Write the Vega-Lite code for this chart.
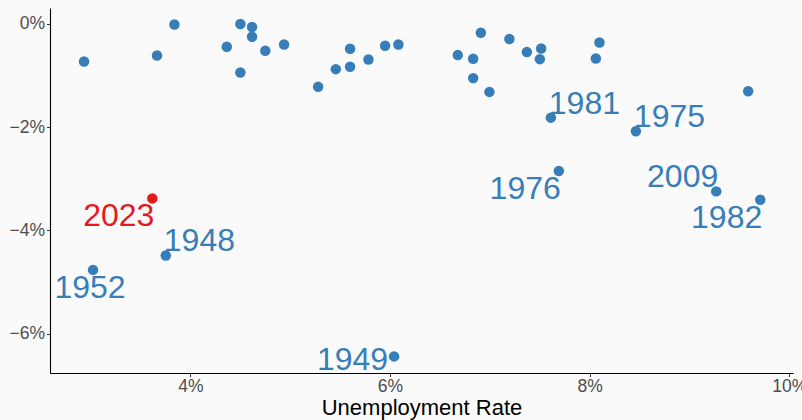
{
  "$schema": "https://vega.github.io/schema/vega-lite/v6.json",
  "autosize": {"type": "none"},
  "padding": {"left": 50, "top": 8, "right": 9, "bottom": 47},
  "width": 743,
  "height": 365,
  "background": "#FAFAFA",
  "config": {
    "view": {"stroke": null},
    "font": "Liberation Sans",
    "axis": {
      "grid": false,
      "domainColor": "#000000",
      "domainWidth": 1.1,
      "tickColor": "#333333",
      "tickSize": 3.5,
      "labelFont": "Liberation Sans",
      "labelFontSize": 17.5,
      "labelColor": "#4D4D4D",
      "labelFlush": false,
      "labelOverlap": false,
      "titleFont": "Liberation Sans",
      "titleFontWeight": "normal",
      "titleColor": "#000000"
    }
  },
  "data": {
    "values": [
      {"unemployment": 2.935, "deficit": -0.728},
      {"unemployment": 3.666, "deficit": -0.612},
      {"unemployment": 3.840, "deficit": -0.010},
      {"unemployment": 4.365, "deficit": -0.443},
      {"unemployment": 4.501, "deficit": 0.000},
      {"unemployment": 4.618, "deficit": -0.060},
      {"unemployment": 4.618, "deficit": -0.249},
      {"unemployment": 4.501, "deficit": -0.942},
      {"unemployment": 4.751, "deficit": -0.520},
      {"unemployment": 4.939, "deficit": -0.398},
      {"unemployment": 5.280, "deficit": -1.219},
      {"unemployment": 5.457, "deficit": -0.876},
      {"unemployment": 5.600, "deficit": -0.482},
      {"unemployment": 5.600, "deficit": -0.831},
      {"unemployment": 5.784, "deficit": -0.689},
      {"unemployment": 5.951, "deficit": -0.423},
      {"unemployment": 6.084, "deficit": -0.398},
      {"unemployment": 6.679, "deficit": -0.604},
      {"unemployment": 6.833, "deficit": -0.676},
      {"unemployment": 6.833, "deficit": -1.050},
      {"unemployment": 6.910, "deficit": -0.171},
      {"unemployment": 6.996, "deficit": -1.317},
      {"unemployment": 7.196, "deficit": -0.293},
      {"unemployment": 7.371, "deficit": -0.546},
      {"unemployment": 7.514, "deficit": -0.476},
      {"unemployment": 7.501, "deficit": -0.682},
      {"unemployment": 8.098, "deficit": -0.359},
      {"unemployment": 8.062, "deficit": -0.670},
      {"unemployment": 9.588, "deficit": -1.303},
      {"unemployment": 7.611, "deficit": -1.816, "label": "1981"},
      {"unemployment": 8.463, "deficit": -2.080, "label": "1975"},
      {"unemployment": 7.691, "deficit": -2.850, "label": "1976"},
      {"unemployment": 9.268, "deficit": -3.245, "label": "2009"},
      {"unemployment": 9.709, "deficit": -3.408, "label": "1982"},
      {"unemployment": 3.619, "deficit": -3.381, "label": "2023"},
      {"unemployment": 3.754, "deficit": -4.487, "label": "1948"},
      {"unemployment": 3.025, "deficit": -4.767, "label": "1952"},
      {"unemployment": 6.041, "deficit": -6.443, "label": "1949"}
    ]
  },
  "encoding": {
    "x": {
      "field": "unemployment",
      "type": "quantitative",
      "scale": {"domain": [2.594, 10.037], "nice": false, "zero": false},
      "axis": {
        "values": [4, 6, 8, 10],
        "labelExpr": "datum.value + '%'",
        "labelPadding": 1,
        "title": "Unemployment Rate",
        "titleFontSize": 22,
        "titlePadding": 2
      }
    },
    "y": {
      "field": "deficit",
      "type": "quantitative",
      "scale": {"domain": [-6.765, 0.309], "nice": false, "zero": false},
      "axis": {
        "values": [0, -2, -4, -6],
        "labelExpr": "replace(toString(datum.value), '-', '\u2212') + '%'",
        "labelPadding": 2,
        "title": null
      }
    },
    "color": {
      "condition": {"test": "datum.label === '2023'", "value": "#E41A1C"},
      "value": "#377EB8"
    }
  },
  "layer": [
    {"mark": {"type": "circle", "size": 110, "opacity": 1}},
    {
      "transform": [{"filter": {"field": "label", "oneOf": ["1981", "1975", "1948"]}}],
      "mark": {"type": "text", "fontSize": 32, "align": "left", "baseline": "alphabetic", "dx": -2, "dy": -4},
      "encoding": {"text": {"field": "label"}}
    },
    {
      "transform": [{"filter": {"field": "label", "oneOf": ["2009"]}}],
      "mark": {"type": "text", "fontSize": 32, "align": "right", "baseline": "alphabetic", "dx": 2, "dy": -4},
      "encoding": {"text": {"field": "label"}}
    },
    {
      "transform": [{"filter": {"field": "label", "oneOf": ["1976", "1982", "2023"]}}],
      "mark": {"type": "text", "fontSize": 32, "align": "right", "baseline": "alphabetic", "dx": 2, "dy": 28},
      "encoding": {"text": {"field": "label"}}
    },
    {
      "transform": [{"filter": {"field": "label", "oneOf": ["1952"]}}],
      "mark": {"type": "text", "fontSize": 32, "align": "center", "baseline": "alphabetic", "dx": -3, "dy": 28},
      "encoding": {"text": {"field": "label"}}
    },
    {
      "transform": [{"filter": {"field": "label", "oneOf": ["1949"]}}],
      "mark": {"type": "text", "fontSize": 32, "align": "right", "baseline": "alphabetic", "dx": -6, "dy": 14},
      "encoding": {"text": {"field": "label"}}
    }
  ]
}
